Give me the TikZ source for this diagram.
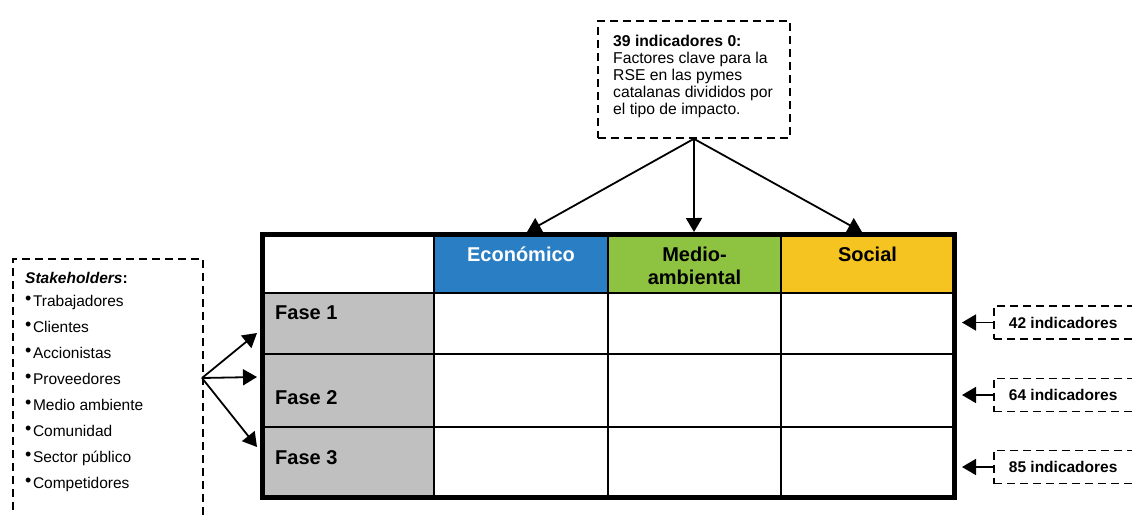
\documentclass[tikz,border=0pt]{standalone}
\usepackage{fontspec}
\setmainfont{Liberation Sans}
\usetikzlibrary{positioning}
\usetikzlibrary{arrows.meta}
\definecolor{custom-blue}{RGB}{42, 126, 195}
\definecolor{custom-green}{RGB}{141, 195, 64}
\definecolor{custom-yellow}{RGB}{245, 196, 33}
\definecolor{custom-grey}{RGB}{192, 192, 192}
\newcommand{\itm}{{\fontsize{18}{18}\selectfont\raisebox{2pt}{\textbullet}}\hspace{1.5pt}}
\tikzset{
  dashbox/.style={draw=black, line width=1.8pt, dash pattern=on 8pt off 5pt},
  arrowline/.style={line width=1.8pt, -{Triangle[length=14pt, width=16pt]}},
  fase/.style={font=\fontsize{20}{23}\selectfont\bfseries, anchor=base west, inner sep=0pt},
  head/.style={font=\fontsize{20}{23}\selectfont\bfseries, align=center, anchor=base, inner sep=0pt},
  indbox/.style={dashbox, font=\fontsize{15.5}{17}\selectfont\bfseries, anchor=west,
    minimum height=33pt, inner xsep=15pt}
}
\begin{document}
\begin{tikzpicture}[x=1pt, y=-1pt]
\useasboundingbox (0,0) rectangle (1132,514);
% table
\filldraw[fill=custom-blue, draw=black, line width=2.5pt] (434,234.5) rectangle (608,293);
\filldraw[fill=custom-green, draw=black, line width=2.5pt] (608,234.5) rectangle (781,293);
\filldraw[fill=custom-yellow, draw=black, line width=2.5pt] (781,234.5) rectangle (954.5,293);
\filldraw[fill=custom-grey, draw=black, line width=2.5pt] (262,293) rectangle (434,354);
\filldraw[fill=custom-grey, draw=black, line width=2.5pt] (262,354) rectangle (434,427);
\filldraw[fill=custom-grey, draw=black, line width=2.5pt] (262,427) rectangle (434,497.5);
\draw[line width=2.5pt] (434,354) -- (954.5,354);
\draw[line width=2.5pt] (434,427) -- (954.5,427);
\draw[line width=2.5pt] (608,293) -- (608,497.5);
\draw[line width=2.5pt] (781,293) -- (781,497.5);
\draw[line width=5pt] (262,234.5) rectangle (954.5,497.5);
\node[head, text=white] (eco) at (521,261) {Económico};
\node[head] (med) at (694.5,284) {Medio-\\ambiental};
\node[head] (soc) at (867.5,261) {Social};
\node[fase] (f1) at (275,319) {Fase 1};
\node[fase] (f2) at (275,404) {Fase 2};
\node[fase] (f3) at (275,464) {Fase 3};
% top box
\node[dashbox, anchor=north west, minimum width=192pt, minimum height=117pt] (ind0) at (597,20) {};
\node[align=left, anchor=north west, inner sep=0pt, font=\fontsize{15.7}{17}\selectfont] (ind0txt) at (613,35)
  {\textbf{39 indicadores 0:}\\Factores clave para la\\RSE en las pymes\\catalanas divididos por\\el tipo de impacto.};
\coordinate (eco-top) at (527,232);
\coordinate (med-top) at (694,232);
\coordinate (soc-top) at (862,232);
\draw[arrowline] (ind0.south) -- (eco-top);
\draw[arrowline] (ind0.south) -- (med-top);
\draw[arrowline] (ind0.south) -- (soc-top);
% stakeholders
\node[dashbox, anchor=north west, minimum width=190pt, minimum height=300pt] (stake) at (12,258) {};
\node[anchor=north west, align=left, inner sep=0pt, font=\fontsize{15.5}{26}\selectfont] (stakelist) at (25,272)
  {\textbf{\textit{Stakeholders}:}\\[-3pt]\itm Trabajadores\\\itm Clientes\\\itm Accionistas\\\itm Proveedores\\
   \itm Medio ambiente\\\itm Comunidad\\\itm Sector público\\\itm Competidores};
\coordinate (sk) at (202,378);
\coordinate (f1-in) at (257,333);
\coordinate (f2-in) at (257,377);
\coordinate (f3-in) at (257,447);
\draw[arrowline] (sk) -- (f1-in);
\draw[arrowline] (sk) -- (f2-in);
\draw[arrowline] (sk) -- (f3-in);
% indicators per fase
\node[indbox] (ind1) at (993,322.5) {42 indicadores};
\node[indbox] (ind2) at (993,395) {64 indicadores};
\node[indbox] (ind3) at (993,467) {85 indicadores};
\coordinate (r1) at (962,322.5);
\coordinate (r2) at (962,395);
\coordinate (r3) at (962,467);
\draw[arrowline] (ind1.west) -- (r1);
\draw[arrowline] (ind2.west) -- (r2);
\draw[arrowline] (ind3.west) -- (r3);
\end{tikzpicture}
\end{document}
